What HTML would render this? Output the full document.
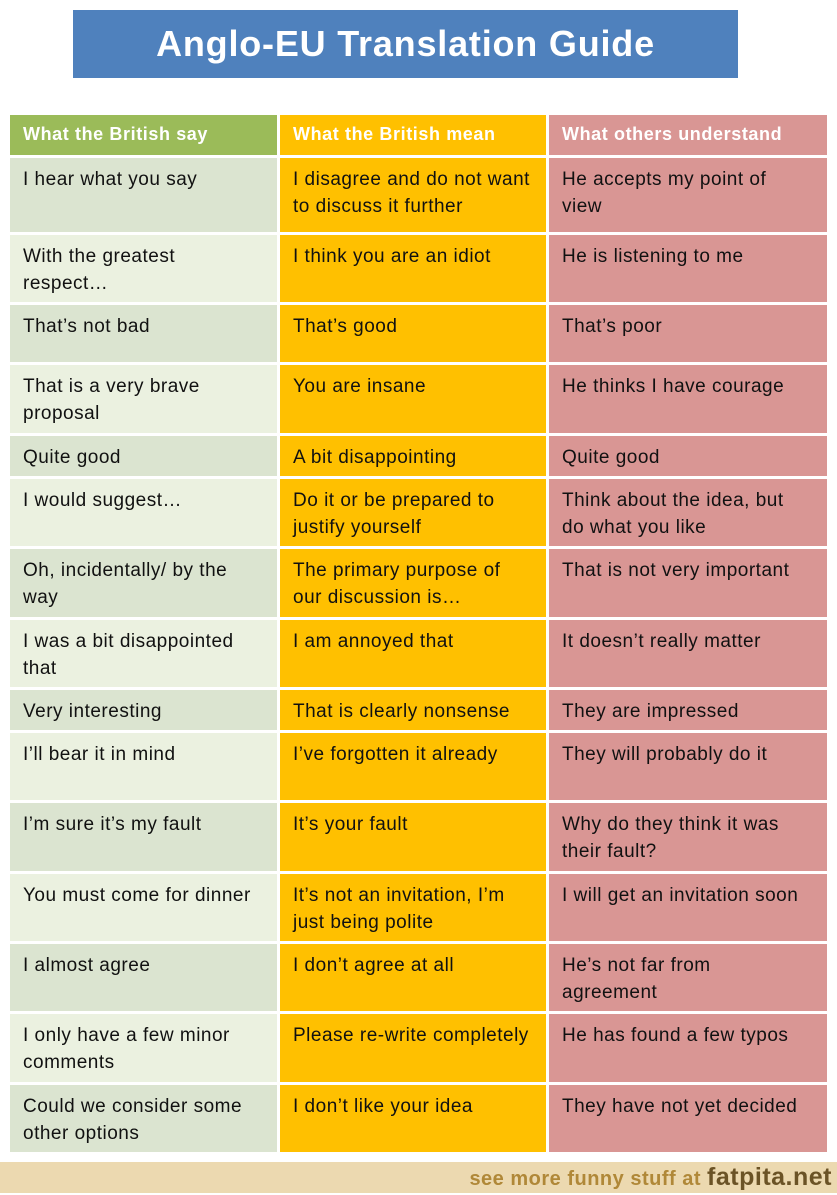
<!DOCTYPE html>
<html><head><meta charset="utf-8"><style>
body{margin:0;width:837px;height:1193px;background:#fff;position:relative;overflow:hidden;font-family:"Liberation Sans",sans-serif}
.t{position:absolute;left:73px;top:10px;width:665px;height:68px;background:#4f81bd;color:#fff;font-weight:bold;font-size:36px;letter-spacing:0.8px;text-align:center;line-height:68px}
.c{position:absolute;box-sizing:border-box;padding:8px 0 0 13px;font-size:19px;letter-spacing:0.5px;line-height:27px;color:#111;white-space:nowrap;overflow:hidden}
.h{color:#fff;font-weight:bold;font-size:18px;letter-spacing:0.6px;padding-top:6px}
.g1{background:#dbe4d0}.g2{background:#ebf1e0}.gh{background:#9bbb59}
.o{background:#ffc000}.p{background:#d99694}
.f{position:absolute;left:0;top:1162px;width:837px;height:31px;background:#ecd9b0;text-align:right;box-sizing:border-box;padding-right:5px;line-height:31px;font-weight:bold;color:#b08838;font-size:20px;letter-spacing:0.5px}
.f b{color:#6b5326;font-size:25px}
</style></head><body>
<div class="t">Anglo-EU Translation Guide</div>
<div id="tb"></div>
<div class="f">see more funny stuff at <b>fatpita.net</b></div>
<script>
var rows=[
[158,232,"I hear what you say","I disagree and do not want<br>to discuss it further","He accepts my point of<br>view"],
[235,302,"With the greatest<br>respect…","I think you are an idiot","He is listening to me"],
[305,362,"That’s not bad","That’s good","That’s poor"],
[365,433,"That is a very brave<br>proposal","You are insane","He thinks I have courage"],
[436,476,"Quite good","A bit disappointing","Quite good"],
[479,546,"I would suggest…","Do it or be prepared to<br>justify yourself","Think about the idea, but<br>do what you like"],
[549,617,"Oh, incidentally/ by the<br>way","The primary purpose of<br>our discussion is…","That is not very important"],
[620,687,"I was a bit disappointed<br>that","I am annoyed that","It doesn’t really matter"],
[690,730,"Very interesting","That is clearly nonsense","They are impressed"],
[733,800,"I’ll bear it in mind","I’ve forgotten it already","They will probably do it"],
[803,871,"I’m sure it’s my fault","It’s your fault","Why do they think it was<br>their fault?"],
[874,941,"You must come for dinner","It’s not an invitation, I’m<br>just being polite","I will get an invitation soon"],
[944,1011,"I almost agree","I don’t agree at all","He’s not far from<br>agreement"],
[1014,1082,"I only have a few minor<br>comments","Please re-write completely","He has found a few typos"],
[1085,1152,"Could we consider some<br>other options","I don’t like your idea","They have not yet decided"]];
var h="";
function cell(cls,x,w,y,hh,t){return '<div class="c '+cls+'" style="left:'+x+'px;top:'+y+'px;width:'+w+'px;height:'+hh+'px">'+t+'</div>';}
h+=cell("h gh",10,267,115,40,"What the British say")+cell("h o",280,266,115,40,"What the British mean")+cell("h p",549,278,115,40,"What others understand");
rows.forEach(function(r,i){var hh=r[1]-r[0];
h+=cell(i%2?"g2":"g1",10,267,r[0],hh,r[2])+cell("o",280,266,r[0],hh,r[3])+cell("p",549,278,r[0],hh,r[4]);});
document.getElementById("tb").innerHTML=h;
</script>
</body></html>
